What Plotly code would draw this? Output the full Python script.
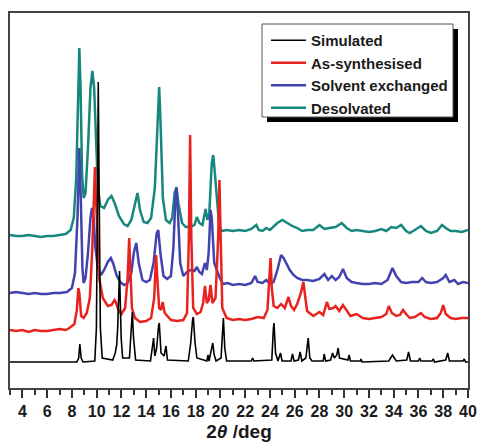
import plotly.graph_objects as go

# ---------------- data (2theta in deg, intensity in arbitrary units, stacked as plotted) -------------
series_names = ["Simulated", "As-synthesised", "Solvent exchanged", "Desolvated"]

sim_x = [3, 8.4, 8.55, 8.64, 8.75, 8.9, 9.85, 9.98, 10.08, 10.13, 10.2, 10.3, 10.45, 11.3, 11.5, 11.62,
         11.7, 11.85, 11.98, 12.1, 12.65, 12.8, 12.88, 12.98, 13.15, 14.35, 14.5, 14.6, 14.7, 14.85, 15.0,
         15.06, 15.2, 15.45, 15.6, 15.72, 17.4, 17.6, 17.75, 17.81, 17.95, 18.1, 18.9, 19.0, 19.08, 19.25,
         19.38, 19.5, 19.65, 20.05, 20.18, 20.24, 20.35, 20.5, 22.5, 22.6, 22.7, 24.15, 24.28, 24.33, 24.45,
         24.65, 24.85, 24.98, 25.7, 25.82, 25.95, 26.3, 26.44, 26.58, 26.9, 27.05, 27.09, 27.22, 27.4, 28.3,
         28.38, 28.5, 28.9, 29.06, 29.2, 29.4, 29.51, 29.62, 30.3, 30.4, 30.5, 31.3, 31.35, 31.45, 33.6, 33.9,
         34.2, 35.05, 35.2, 35.35, 36.0, 36.1, 36.2, 37.1, 37.2, 37.3, 38.2, 38.36, 38.5, 39.6, 39.7, 39.8, 40]
sim_y = [26, 26, 30, 44, 30, 26, 27, 60, 200, 306, 200, 60, 30, 28, 35, 43,
         60, 117, 50, 30, 30, 60, 76, 50, 28, 27, 40, 50, 32, 40, 62,
         65, 35, 32, 42, 28, 27, 45, 68, 71, 45, 30, 27, 33, 27, 38,
         45, 33, 27, 30, 62, 70, 40, 27, 27, 30, 27, 28, 60, 65, 35,
         27, 35, 27, 27, 34, 27, 28, 36, 27, 30, 48, 50, 30, 27, 27,
         34, 27, 28, 35, 30, 33, 40, 30, 28, 33, 27, 27, 29, 26, 27, 33,
         27, 28, 36, 27, 27, 30, 27, 27, 29, 26, 28, 35, 27, 27, 29, 26, 26]

syn_x = [3, 3.5, 4, 4.5, 5, 5.5, 6, 6.5, 7, 7.5, 7.8, 8.2, 8.4, 8.52, 8.6, 8.75, 8.95, 9.2, 9.45, 9.65,
         9.8, 9.86, 9.95, 10.05, 10.2, 10.5, 10.9, 11.2, 11.45, 11.55, 11.75, 12.0, 12.3, 12.5, 12.63,
         12.72, 12.85, 13.1, 13.5, 14.0, 14.4, 14.65, 14.8, 14.9, 15.05, 15.2, 15.33, 15.5, 16.0, 16.5,
         17.0, 17.3, 17.45, 17.55, 17.65, 17.8, 18.1, 18.4, 18.6, 18.75, 18.9, 19.05, 19.2, 19.35, 19.6,
         19.82, 19.92, 20.02, 20.15, 20.5, 21, 21.5, 22, 22.5, 23, 23.5, 23.8, 23.95, 24.05, 24.15, 24.3,
         24.6, 24.9, 25.2, 25.5, 25.7, 25.95, 26.2, 26.5, 26.7, 26.85, 27.0, 27.5, 28.0, 28.3, 28.6, 28.8,
         29.1, 29.3, 29.6, 29.9, 30.2, 30.5, 31, 31.5, 32, 32.5, 33, 33.4, 33.6, 33.85, 34.2, 34.5, 34.75,
         35.0, 35.3, 35.7, 36.2, 36.5, 37, 37.5, 37.8, 38.0, 38.2, 38.6, 39, 39.5, 40]
syn_y = [58, 57, 58, 56, 58, 57, 57, 58, 59, 58, 60, 64, 78, 100, 95, 72, 70, 75, 90, 140,
         210, 221, 190, 150, 110, 90, 82, 83, 88, 86, 78, 74, 80, 110, 150,
         120, 80, 70, 66, 67, 70, 90, 133, 110, 80, 78, 86, 75, 68, 67,
         68, 75, 150, 253, 150, 80, 74, 76, 85, 102, 85, 88, 103, 85, 90,
         150, 208, 150, 80, 70, 68, 69, 68, 69, 71, 70, 78, 110, 130, 100, 82,
         80, 84, 80, 91, 82, 78, 84, 95, 106, 90, 77, 72, 76, 73, 86, 79,
         80, 82, 77, 83, 78, 72, 74, 70, 69, 70, 71, 74, 82, 75, 72, 73, 78,
         74, 70, 71, 75, 71, 69, 70, 75, 83, 74, 70, 69, 70, 70]

exc_x = [3, 3.5, 4, 4.5, 5, 5.5, 6, 6.5, 7, 7.6, 8.0, 8.25, 8.45, 8.6, 8.72, 8.85, 8.95, 9.1, 9.3, 9.5,
         9.62, 9.75, 9.9, 10.1, 10.35, 10.6, 10.9, 11.15, 11.35, 11.6, 11.9, 12.2, 12.5, 12.8, 13.0, 13.2,
         13.4, 13.7, 14.0, 14.3, 14.6, 14.85, 14.98, 15.15, 15.4, 15.7, 16.0, 16.2, 16.38, 16.45, 16.55,
         16.75, 17.0, 17.3, 17.6, 17.9, 18.1, 18.3, 18.5, 18.75, 18.9, 19.05, 19.2, 19.3, 19.5, 19.7, 19.95,
         20.2, 20.6, 21, 21.5, 22, 22.5, 22.8, 23.0, 23.4, 23.7, 24.0, 24.3, 24.6, 24.9, 25.1, 25.3, 25.6,
         25.9, 26.2, 26.6, 27, 27.5, 28, 28.4, 28.7, 29.0, 29.3, 29.6, 29.9, 30.2, 30.6, 31, 31.5, 32, 32.5,
         33, 33.5, 33.9, 34.2, 34.6, 35, 35.5, 36, 36.3, 36.6, 37, 37.5, 38.0, 38.2, 38.5, 38.9, 39.2, 39.6, 40]
exc_y = [95, 96, 95, 94, 95, 94, 94, 95, 95, 96, 100, 115, 170, 240, 190, 120, 105, 110, 135, 170,
         180, 170, 140, 120, 113, 118, 126, 130, 124, 113, 106, 103, 105, 115, 135, 145,
         125, 108, 106, 108, 125, 155, 158, 135, 112, 109, 112, 140, 195, 200, 180,
         125, 112, 116, 118, 117, 121, 116, 114, 125, 118, 135, 178, 170, 125, 118, 110,
         104, 105, 103, 104, 103, 105, 112, 106, 105, 108, 104, 106, 118, 133, 130, 125, 118,
         113, 110, 108, 108, 107, 109, 114, 108, 112, 108, 111, 119, 110, 106, 105, 104, 104, 105,
         104, 108, 120, 112, 106, 105, 106, 106, 110, 106, 105, 106, 110, 113, 106, 108, 104, 106, 105]

des_x = [3, 3.5, 4, 4.5, 5, 5.5, 6, 6.5, 7, 7.5, 7.9, 8.15, 8.35, 8.5, 8.6, 8.7, 8.82, 8.95, 9.1, 9.3,
         9.5, 9.65, 9.8, 9.95, 10.1, 10.3, 10.6, 10.9, 11.2, 11.45, 11.8, 12.2, 12.5, 12.8, 13.1, 13.3,
         13.5, 13.8, 14.1, 14.4, 14.7, 14.9, 15.05, 15.15, 15.35, 15.6, 15.9, 16.1, 16.3, 16.45, 16.6,
         16.9, 17.2, 17.6, 17.9, 18.1, 18.3, 18.55, 18.8, 18.95, 19.1, 19.3, 19.42, 19.55, 19.75, 19.9,
         20.1, 20.5, 21, 21.5, 22, 22.5, 22.9, 23.1, 23.4, 23.7, 24.0, 24.3, 24.6, 25.0, 25.4, 25.8, 26.2,
         26.6, 27, 27.5, 28, 28.4, 28.8, 29.3, 29.8, 30.2, 30.6, 31, 31.5, 32, 32.5, 33, 33.4, 33.8, 34.2,
         34.6, 35, 35.3, 35.7, 36.2, 36.6, 37, 37.5, 37.9, 38.2, 38.6, 39, 39.5, 40]
des_y = [153, 152, 152, 153, 152, 151, 152, 152, 153, 154, 158, 170, 210, 290, 340, 300, 215, 190, 195, 240,
         300, 317, 300, 250, 200, 182, 180, 188, 192, 185, 172, 164, 162, 168, 185, 195,
         178, 166, 165, 170, 200, 260, 301, 270, 190, 168, 165, 170, 195, 201, 185,
         165, 161, 161, 163, 171, 165, 163, 179, 168, 175, 225, 233, 215, 180, 162,
         157, 158, 157, 158, 157, 159, 163, 158, 157, 160, 158, 162, 165, 168, 165, 162, 160,
         157, 158, 158, 163, 159, 160, 161, 165, 160, 157, 158, 157, 156, 157, 159, 157, 161, 160,
         163, 157, 155, 158, 162, 157, 155, 157, 163, 160, 157, 157, 156, 158]

x_ticks = [4, 6, 8, 10, 12, 14, 16, 18, 20, 22, 24, 26, 28, 30, 32, 34, 36, 38, 40]

# ---------------- styling -------------
colors = ["#000000", "#e8231f", "#4343b0", "#16877d"]
widths = [1.6, 2.5, 2.5, 2.5]
FONT = "Liberation Sans, Arial, sans-serif"

xs_all = [sim_x, syn_x, exc_x, des_x]
ys_all = [sim_y, syn_y, exc_y, des_y]

fig = go.Figure()
# draw Desolvated first so the simulated pattern sits on top; legend order restored by traceorder
for i in reversed(range(4)):
    fig.add_trace(go.Scatter(x=xs_all[i], y=ys_all[i], mode="lines", name=series_names[i],
                             line=dict(color=colors[i], width=widths[i])))

W, H = 478, 444
ML, MR, MT, MB = 10, 10, 13, 56
pw, ph = W - ML - MR, H - MT - MB

def px_to_paper(px, py):
    return (px - ML) / pw, (H - MB - py) / ph

# legend frame drawn as shapes: black drop shadow, then white box with grey border
bx0, by0, bx1, by1 = 262, 24, 453, 117
shadow = 5
a0, b0 = px_to_paper(bx0 + shadow, by0 + shadow)
a1, b1 = px_to_paper(bx1 + shadow, by1 + shadow)
fig.add_shape(type="rect", xref="paper", yref="paper", x0=a0, y0=b1, x1=a1, y1=b0,
              fillcolor="#000000", line=dict(width=0), layer="above")
c0, d0 = px_to_paper(bx0, by0)
c1, d1 = px_to_paper(bx1, by1)
fig.add_shape(type="rect", xref="paper", yref="paper", x0=c0, y0=d1, x1=c1, y1=d0,
              fillcolor="#ffffff", line=dict(width=1, color="#555555"), layer="above")

lx, ly = px_to_paper(266, by0)
fig.update_layout(
    width=W, height=H, autosize=False,
    margin=dict(l=ML, r=MR, t=MT, b=MB, autoexpand=False),
    paper_bgcolor="white", plot_bgcolor="white",
    font=dict(family=FONT, color="#1a1a1a", weight="bold"),
    showlegend=True,
    legend=dict(x=lx, y=ly, xanchor="left", yanchor="top", traceorder="reversed",
                bgcolor="rgba(0,0,0,0)", borderwidth=0, itemwidth=35,
                font=dict(family=FONT, size=15, color="#1a1a1a", weight="bold")),
    xaxis=dict(range=[3, 40], tickmode="array", tickvals=x_ticks, ticktext=[str(v) for v in x_ticks],
               ticks="outside", ticklen=8, tickwidth=1.5, tickcolor="#333333",
               minor=dict(dtick=1, tick0=3, ticks="outside", ticklen=5, tickwidth=1.5, tickcolor="#333333"),
               showline=True, linecolor="#444444", linewidth=1.5, mirror=True,
               showgrid=False, zeroline=False, automargin=False,
               tickfont=dict(family=FONT, size=16, color="#1a1a1a", weight="bold"),
               title=dict(text="2<i>θ</i> /deg", font=dict(family=FONT, size=19, color="#1a1a1a", weight="bold"),
                          standoff=6)),
    yaxis=dict(range=[0, 375], showticklabels=False, ticks="", showgrid=False, zeroline=False,
               automargin=False, showline=True, linecolor="#444444", linewidth=1.5, mirror=True),
)

fig.write_html("out.html", config={"displayModeBar": False},
               post_script="document.body.style.margin='0';document.documentElement.style.overflow='hidden';")
